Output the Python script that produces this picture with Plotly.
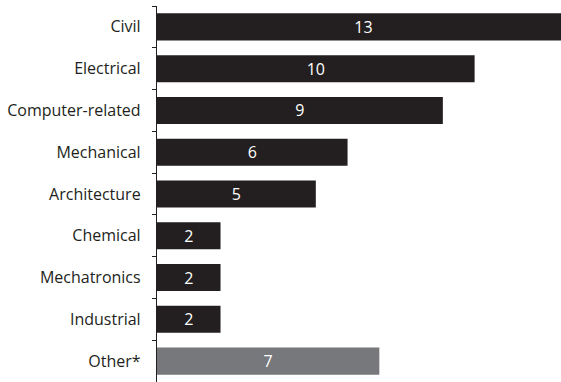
import plotly.graph_objects as go

categories = ["Civil", "Electrical", "Computer-related", "Mechanical", "Architecture",
              "Chemical", "Mechatronics", "Industrial", "Other*"]
values = [13, 10, 9, 6, 5, 2, 2, 2, 7]
bar_colors = ["#231f20"] * 8 + ["#77787b"]

fig = go.Figure(go.Bar(
    y=categories,
    x=values,
    orientation="h",
    marker=dict(color=bar_colors, line=dict(width=0)),
    text=[str(v) for v in values],
    textposition="inside",
    insidetextanchor="middle",
    textangle=0,
    constraintext="none",
    textfont=dict(color="white", size=16, family="Open Sans"),
    cliponaxis=True,
))

fig.update_layout(
    width=561, height=382,
    margin=dict(l=157, r=0, t=6, b=0),
    paper_bgcolor="white", plot_bgcolor="white",
    bargap=0.353,
    showlegend=False,
    font=dict(family="Open Sans", size=16, color="#231f20"),
    xaxis=dict(visible=False, range=[0, 12.72], fixedrange=True),
    yaxis=dict(
        autorange="reversed",
        showline=True, linecolor="#231f20", linewidth=1.3,
        ticks="outside", ticklen=4, tickcolor="#231f20", tickwidth=1.3,
        tickson="boundaries",
        showgrid=False, zeroline=False,
        ticklabelstandoff=12,
        tickfont=dict(family="Open Sans", size=16, color="#231f20"),
    ),
)

fig.write_html("out.html")
